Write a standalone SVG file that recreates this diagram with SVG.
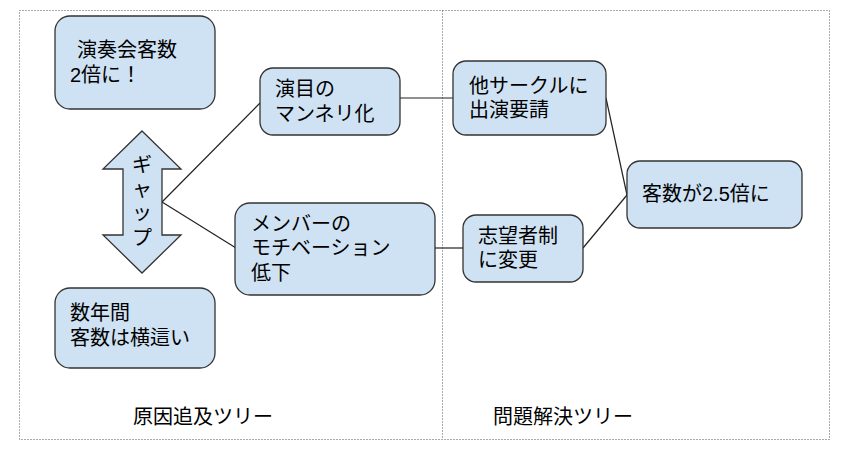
<svg xmlns="http://www.w3.org/2000/svg" width="866" height="454" viewBox="0 0 866 454">
<style>
.box{fill:#cfe2f3;stroke:#333;stroke-width:1.3}
.t{font-family:"Liberation Sans","Noto Sans CJK JP",sans-serif;font-size:20px;fill:#000}
.frame{fill:none;stroke:#555;stroke-width:1;stroke-dasharray:1 2}
.conn line{stroke:#222;stroke-width:1.2}
</style>
<rect width="866" height="454" fill="#fff"/>
<g id="frame">
<rect class="frame" x="19.5" y="10.5" width="810" height="429"/>
<line class="frame" x1="442.5" y1="10.5" x2="442.5" y2="439.5"/>
</g>
<g class="conn" id="connectors">
<line x1="162" y1="202" x2="260" y2="103"/>
<line x1="162" y1="202" x2="236" y2="248"/>
<line x1="400" y1="98" x2="453" y2="98"/>
<line x1="435" y1="248" x2="463" y2="248"/>
<line x1="606" y1="98" x2="627" y2="195"/>
<line x1="583" y1="248" x2="627" y2="195"/>
</g>
<g id="goal">
<rect class="box" x="55" y="16" width="160" height="93" rx="15"/>
<text class="t" x="77" y="57">演奏会客数</text>
<text class="t" x="70" y="82">2倍に！</text>
</g>
<g id="gap">
<polygon class="box" points="142,131 181,169 162,169 162,235 181,235 142,273 103,235 123,235 123,169 103,169"/>
<text class="t" x="142" y="172" text-anchor="middle">ギ</text>
<text class="t" x="142" y="196" text-anchor="middle">ャ</text>
<text class="t" x="142" y="220" text-anchor="middle">ッ</text>
<text class="t" x="142" y="245" text-anchor="middle">プ</text>
</g>
<g id="current">
<rect class="box" x="55" y="288" width="160" height="80" rx="15"/>
<text class="t" x="70" y="320">数年間</text>
<text class="t" x="70" y="345">客数は横這い</text>
</g>
<g id="cause1">
<rect class="box" x="260" y="68" width="140" height="67" rx="13"/>
<text class="t" x="275" y="96">演目の</text>
<text class="t" x="275" y="121">マンネリ化</text>
</g>
<g id="cause2">
<rect class="box" x="235" y="203" width="200" height="92" rx="15"/>
<text class="t" x="251" y="231">メンバーの</text>
<text class="t" x="251" y="255">モチベーション</text>
<text class="t" x="251" y="280">低下</text>
</g>
<g id="sol1">
<rect class="box" x="453" y="61" width="153" height="74" rx="13"/>
<text class="t" x="469" y="93">他サークルに</text>
<text class="t" x="469" y="117">出演要請</text>
</g>
<g id="sol2">
<rect class="box" x="463" y="215" width="120" height="67" rx="13"/>
<text class="t" x="478" y="243">志望者制</text>
<text class="t" x="478" y="267">に変更</text>
</g>
<g id="result">
<rect class="box" x="627" y="161" width="175" height="67" rx="13"/>
<text class="t" x="642" y="201">客数が2.5倍に</text>
</g>
<g id="labels">
<text class="t" x="133" y="424">原因追及ツリー</text>
<text class="t" x="493" y="424">問題解決ツリー</text>
</g>
</svg>
